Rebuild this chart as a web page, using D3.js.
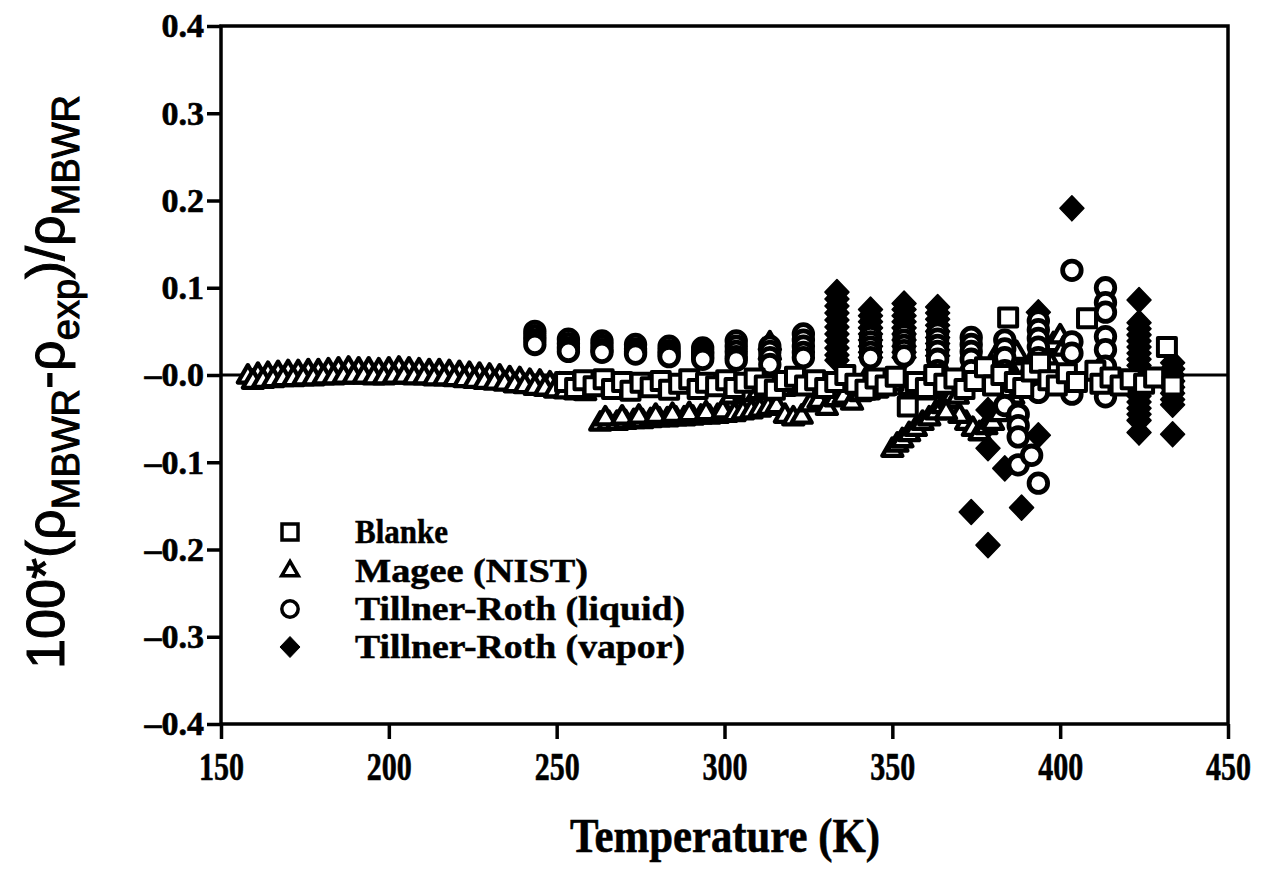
<!DOCTYPE html>
<html><head><meta charset="utf-8">
<script src="https://cdn.jsdelivr.net/npm/d3@7"></script>
<style>body{margin:0;background:#fff;} svg{display:block;}</style>
</head><body>
<svg id="chart" width="1262" height="870"></svg>
<script>
const xTicks = [150, 200, 250, 300, 350, 400, 450];
const yTicks = [0.4, 0.3, 0.2, 0.1, 0, -0.1, -0.2, -0.3, -0.4];
const yTickLabels = ["0.4", "0.3", "0.2", "0.1", "\u20130.0", "\u20130.1", "\u20130.2", "\u20130.3", "\u20130.4"];
const seriesNames = ["Blanke", "Magee (NIST)", "Tillner-Roth (liquid)", "Tillner-Roth (vapor)"];

// Blanke  [T (K), deviation]
const blanke = [[252.5,-0.008],[255.5,-0.015],[258,-0.006],[261,-0.013],[264,-0.005],[266.5,-0.016],[269.5,-0.008],[272,-0.018],[275,-0.009],[278,-0.014],[281,-0.007],[283.5,-0.017],[286.5,-0.010],[289.5,-0.005],[292,-0.016],[294.5,-0.009],[297.5,-0.013],[300.5,-0.006],[303,-0.015],[306,-0.009],[309,-0.004],[312,-0.012],[315,-0.017],[318,-0.007],[321,-0.002],[324,-0.012],[327,-0.006],[330,-0.015],[333,-0.008],[336,0.000],[339,-0.010],[342,-0.017],[345,-0.004],[348,-0.012],[351,-0.002],[354.6,-0.036],[357,-0.008],[360,-0.015],[362.5,0.000],[365.5,-0.010],[368.5,-0.004],[371.5,-0.016],[374.5,-0.007],[377.6,0.009],[380,-0.012],[382.5,0.000],[384.5,0.066],[386.5,-0.008],[389,-0.015],[391.5,0.004],[394,0.014],[396.5,-0.006],[399,-0.012],[402,0.002],[405,-0.008],[408,0.065],[410.5,0.005],[412,-0.010],[415,-0.003],[418,-0.012],[421,-0.005],[425,-0.010],[428,-0.003],[431.8,0.032],[433.5,-0.012]];

// Magee (NIST)
const magee = [
[158,-0.002],[161,0.000],[164,0.001],[167,0.002],[170,0.003],[173,0.003],[176,0.004],[179,0.004],[182,0.005],[185,0.006],[188,0.007],[191,0.006],[194,0.006],[197,0.005],[200,0.006],[203,0.007],[206,0.006],[209,0.005],[212,0.004],[215,0.004],[218,0.003],[221,0.002],[224,0.001],[227,0.000],[230,-0.001],[233,-0.002],[236,-0.004],[239,-0.005],[242,-0.007],[245,-0.008],[248,-0.010],[251,-0.011],[254,-0.012],[257,-0.013],[260,-0.014],
[159.5,-0.008],[162.5,-0.007],[165.5,-0.006],[168.5,-0.005],[171.5,-0.005],[174.5,-0.004],[177.5,-0.004],[180.5,-0.003],[183.5,-0.003],[186.5,-0.002],[189.5,-0.002],[192.5,-0.002],[195.5,-0.003],[198.5,-0.003],[201.5,-0.002],[204.5,-0.002],[207.5,-0.003],[210.5,-0.003],[213.5,-0.004],[216.5,-0.004],[219.5,-0.005],[222.5,-0.006],[225.5,-0.007],[228.5,-0.008],[231.5,-0.009],[234.5,-0.010],[237.5,-0.012],[240.5,-0.013],[243.5,-0.015],[246.5,-0.016],[249.5,-0.018],[252.5,-0.019],[255.5,-0.020],[258.5,-0.021],
[263,-0.056],[265.5,-0.055],[268,-0.055],[270.5,-0.054],[273,-0.053],[275.5,-0.053],[278,-0.052],[280.5,-0.051],[283,-0.051],[285.5,-0.050],[288,-0.050],[290.5,-0.049],[293,-0.048],[295.5,-0.048],[298,-0.047],[300.5,-0.046],
[264.5,-0.050],[269.5,-0.049],[274.5,-0.048],[279.5,-0.047],[284.5,-0.046],[289.5,-0.045],[294.5,-0.044],[299.5,-0.042],
[303,-0.045],[305.5,-0.043],[308,-0.042],[310.5,-0.040],[313,-0.038],[315.5,-0.036],[318,-0.047],[320.5,-0.050],[323,-0.048],[325.5,-0.034],[328,-0.030],[330.5,-0.038],[333,-0.028],[335.5,-0.025],[338,-0.032],[340.5,-0.022],[343,-0.020],[345.5,-0.018],[348,-0.015],
[302,-0.025],[306,-0.022],[310,-0.020],[314,-0.018],[318,-0.016],[322,-0.015],[326,-0.012],[330,-0.012],[334,-0.010],[338,-0.008],[342,-0.006],
[313.5,0.036],[313.5,0.025],
[350,-0.086],[351.5,-0.080],[353,-0.075],[355,-0.068],[357,-0.062],[359,-0.055],[361,-0.050],[363,-0.043],[365,-0.036],[367,-0.030],[369.5,-0.025],[372,-0.055],[374,-0.062],[376,-0.067],[378,-0.060],[380,-0.055],[382,-0.045],[384,-0.032],[386,-0.025],[388,-0.018],[390,-0.012],[370,-0.047],[366,-0.043],[382,0.028],[385,0.020],[387,0.025],[384.5,0.010],[390,0.000],[396,0.020],[398,0.035],[400,0.044],[401,0.030],[392,-0.005],[380,-0.005],[375,-0.010],[360,-0.020],[355,-0.015],[350,-0.010]
];

// Tillner-Roth (liquid)
const liquid = [
[243.5,0.050],[243.5,0.045],[243.5,0.040],[243.5,0.035],
[253.5,0.041],[253.5,0.036],[253.5,0.031],[253.5,0.027],
[263.5,0.039],[263.5,0.034],[263.5,0.029],[263.5,0.026],
[273.5,0.035],[273.5,0.030],[273.5,0.027],[273.5,0.024],
[283.5,0.033],[283.5,0.028],[283.5,0.024],[283.5,0.021],
[293.5,0.031],[293.5,0.027],[293.5,0.024],[293.5,0.021],[293.5,0.018],
[303.5,0.039],[303.5,0.033],[303.5,0.027],[303.5,0.021],[303.5,0.017],
[313.5,0.033],[313.5,0.027],[313.5,0.020],[313.5,0.012],
[323.5,0.047],[323.5,0.040],[323.5,0.033],[323.5,0.026],[323.5,0.020],
[343.5,0.044],[343.5,0.038],[343.5,0.032],[343.5,0.026],[343.5,0.020],
[353.5,0.046],[353.5,0.040],[353.5,0.034],[353.5,0.028],[353.5,0.022],
[363.5,0.048],[363.5,0.041],[363.5,0.034],[363.5,0.027],[363.5,0.018],[363.5,0.005],[363.5,-0.014],
[373.5,0.043],[373.5,0.035],[373.5,0.027],[373.5,0.018],[373.5,0.005],
[383.5,0.040],[383.5,0.030],[383.5,0.020],[383.5,0.005],[383.5,-0.015],[383.5,-0.035],
[387.5,-0.045],[387.5,-0.058],[387.5,-0.071],[387.5,-0.103],
[391.5,-0.092],
[393.5,0.062],[393.5,0.052],[393.5,0.042],[393.5,0.032],[393.5,0.020],[393.5,-0.010],[393.5,-0.020],[393.5,-0.124],
[403.5,0.120],[403.5,0.038],[403.5,0.025],[403.5,-0.010],[403.5,-0.022],
[413.5,0.100],[413.5,0.083],[413.5,0.072],[413.5,0.044],[413.5,0.029],[413.5,0.010],[413.5,-0.009],[413.5,-0.025]
];

// Tillner-Roth (vapor)
const vapor = [
[333.5,0.095],[333.5,0.087],[333.5,0.079],[333.5,0.071],[333.5,0.063],[333.5,0.055],[333.5,0.047],[333.5,0.039],[333.5,0.031],[333.5,0.023],[333.5,0.017],
[343.5,0.075],[343.5,0.068],[343.5,0.061],[343.5,0.054],[343.5,0.047],[343.5,0.040],[343.5,0.033],[343.5,0.026],[343.5,0.020],
[353.5,0.082],[353.5,0.075],[353.5,0.068],[353.5,0.061],[353.5,0.054],[353.5,0.047],[353.5,0.040],[353.5,0.033],[353.5,0.026],[353.5,0.020],
[363.5,0.078],[363.5,0.071],[363.5,0.064],[363.5,0.057],[363.5,0.050],[363.5,0.043],[363.5,0.036],[363.5,0.029],[363.5,0.022],
[373.5,-0.157],
[378.5,-0.040],[378.5,-0.058],[378.5,-0.084],[378.5,-0.195],
[383.5,-0.107],
[388.5,-0.152],
[393.5,0.072],[393.5,-0.069],
[403.5,0.191],
[423.5,0.086],[423.5,0.060],[423.5,0.053],[423.5,0.046],[423.5,0.039],[423.5,0.032],[423.5,0.025],[423.5,0.018],[423.5,0.011],[423.5,0.004],[423.5,-0.003],[423.5,-0.010],[423.5,-0.017],[423.5,-0.024],[423.5,-0.031],[423.5,-0.038],[423.5,-0.045],[423.5,-0.052],[423.5,-0.066],
[433.5,0.014],[433.5,0.007],[433.5,0.000],[433.5,-0.007],[433.5,-0.014],[433.5,-0.021],[433.5,-0.028],[433.5,-0.034],[433.5,-0.068]
];

const serif = "'Liberation Serif','Times New Roman',Times,serif";
const sans = "'Liberation Sans',Arial,Helvetica,sans-serif";
const m = {left: 221, right: 1228, top: 26, bottom: 724};
const x = d3.scaleLinear().domain([150, 450]).range([m.left, m.right]);
const y = d3.scaleLinear().domain([-0.4, 0.4]).range([m.bottom, m.top]);
const svg = d3.select('#chart');

// zero line
svg.append('line').attr('x1', x(150)).attr('x2', x(450)).attr('y1', y(0)).attr('y2', y(0))
  .attr('stroke', '#000').attr('stroke-width', 3);

const squarePath = d3.symbol().type(d3.symbolSquare).size(324)();
const trianglePath = d3.symbol().type(d3.symbolTriangle).size(175)();
const circlePath = d3.symbol().type(d3.symbolCircle).size(270)();
const diamondPath = "M0,-12.5L12,0L0,12.5L-12,0Z";

function plot(data, path, fill, sw) {
  svg.append('g').selectAll('path').data(data).join('path')
    .attr('d', path)
    .attr('transform', d => `translate(${x(d[0])},${y(d[1])})`)
    .attr('fill', fill).attr('stroke', '#000').attr('stroke-width', sw)
    .attr('stroke-linejoin', 'round');
}
plot(vapor, diamondPath, '#000', 1.5);
plot(magee, trianglePath, '#fff', 4.3);
plot(liquid, circlePath, '#fff', 4.8);
plot(blanke, squarePath, '#fff', 4);

// frame
svg.append('rect').attr('x', m.left).attr('y', m.top).attr('width', m.right - m.left).attr('height', m.bottom - m.top)
  .attr('fill', 'none').attr('stroke', '#000').attr('stroke-width', 3.5);

// y axis
const gy = svg.append('g').attr('transform', `translate(${m.left},0)`)
  .call(d3.axisLeft(y).tickValues(yTicks).tickSize(14).tickSizeOuter(0).tickPadding(3)
    .tickFormat((d, i) => yTickLabels[i]));
gy.select('.domain').remove();
gy.selectAll('line').attr('stroke-width', 3.5);
gy.selectAll('text').attr('font-family', serif).attr('font-weight', 'bold').attr('font-size', 34)
  .attr('fill', '#000').attr('stroke', '#000').attr('stroke-width', 0.6);

// x axis
const gx = svg.append('g').attr('transform', `translate(0,${m.bottom})`)
  .call(d3.axisBottom(x).tickValues(xTicks).tickSize(15).tickSizeOuter(0).tickPadding(13));
gx.select('.domain').remove();
gx.selectAll('line').attr('stroke-width', 3.5);
gx.selectAll('text').attr('font-family', serif).attr('font-weight', 'bold').attr('font-size', 40)
  .attr('textLength', 45).attr('lengthAdjust', 'spacingAndGlyphs').attr('fill', '#000')
  .attr('stroke', '#000').attr('stroke-width', 0.6);

// x title
svg.append('text').attr('x', 725).attr('y', 852).attr('text-anchor', 'middle')
  .attr('font-family', serif).attr('font-weight', 'bold').attr('font-size', 48)
  .attr('textLength', 310).attr('lengthAdjust', 'spacingAndGlyphs')
  .attr('stroke', '#000').attr('stroke-width', 0.6).text('Temperature (K)');

// y title
const yl = svg.append('text').attr('transform', 'translate(64,382) rotate(-90)').attr('text-anchor', 'middle')
  .attr('font-family', sans).attr('font-size', 54).attr('stroke', '#000').attr('stroke-width', 1);
yl.append('tspan').text('100*(\u03c1');
yl.append('tspan').attr('font-size', 38).attr('dy', 15).text('MBWR');
yl.append('tspan').attr('dy', -15).text('-\u03c1');
yl.append('tspan').attr('font-size', 38).attr('dy', 15).text('exp');
yl.append('tspan').attr('dy', -15).text(')/\u03c1');
yl.append('tspan').attr('font-size', 38).attr('dy', 15).text('MBWR');

// legend
const legY = [532, 571, 609, 647];
const legPaths = [d3.symbol().type(d3.symbolSquare).size(256)(), d3.symbol().type(d3.symbolTriangle).size(120)(),
  d3.symbol().type(d3.symbolCircle).size(210)(), "M0,-10.5L10,0L0,10.5L-10,0Z"];
const legFill = ['#fff', '#fff', '#fff', '#000'];
const legSW = [3.5, 3.5, 3.5, 1];
const legLen = [93, 233, 330, 330];
const leg = svg.append('g');
seriesNames.forEach((name, i) => {
  leg.append('path').attr('d', legPaths[i]).attr('transform', `translate(290,${legY[i]})`)
    .attr('fill', legFill[i]).attr('stroke', '#000').attr('stroke-width', legSW[i]);
  leg.append('text').attr('x', 355).attr('y', legY[i] + 11).attr('font-family', serif).attr('font-weight', 'bold')
    .attr('font-size', 34).attr('textLength', legLen[i]).attr('lengthAdjust', 'spacingAndGlyphs')
    .attr('stroke', '#000').attr('stroke-width', 0.5).text(name);
});
</script>
</body></html>
